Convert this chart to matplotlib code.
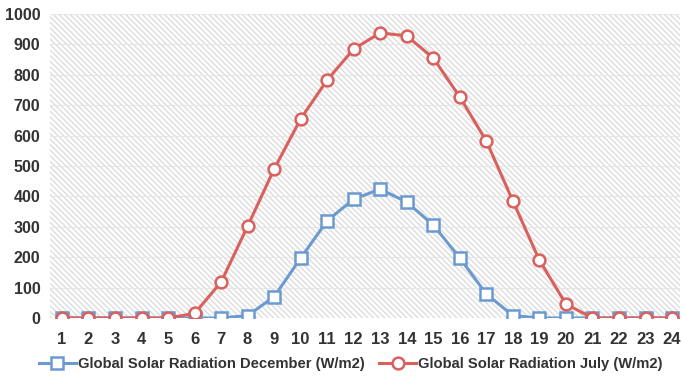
import matplotlib.pyplot as plt
from matplotlib.patches import Rectangle

hours = list(range(1, 25))
december = [0, 0, 0, 0, 0, 0, 0, 8, 70, 197, 320, 391, 424, 381, 306, 197, 79, 8, 0, 0, 0, 0, 0, 0]
july = [0, 0, 0, 0, 0, 15, 118, 302, 490, 655, 783, 885, 938, 928, 855, 727, 582, 385, 190, 46, 0, 0, 0, 0]

blue = '#6a9ad0'
red = '#d9605c'
plt.rcParams['font.family'] = ['Liberation Sans', 'DejaVu Sans']
plt.rcParams['hatch.linewidth'] = 1.0

fig = plt.figure(figsize=(6.82, 3.79), dpi=100)
ax = fig.add_axes([50/682, 1-318/379, 630/682, 304/379])

# striped plot area
ax.add_patch(Rectangle((0, 0), 1, 1, transform=ax.transAxes, facecolor='white',
                       edgecolor='#dddddd', lw=0, hatch='\\' * 6, zorder=0.5))
for v in range(100, 1001, 100):
    ax.axhline(v, color='#e6e6e6', lw=0.8, zorder=1)

ax.plot(hours, december, color=blue, lw=2.2, marker='s', ms=8.5, mfc='white',
        mec=blue, mew=1.8, zorder=3, label='Global Solar Radiation December (W/m2)')
ax.plot(hours, july, color=red, lw=2.2, marker='o', ms=8.5, mfc='white',
        mec=red, mew=1.8, zorder=4, label='Global Solar Radiation July (W/m2)')

ax.set_xlim(0.55, 24.3)
ax.set_ylim(0, 1000)
ax.set_xticks(hours)
ax.set_yticks(range(0, 1001, 100))
ax.tick_params(length=0, colors='#333333')
ax.tick_params(axis='x', pad=10, labelsize=12)
ax.tick_params(axis='y', pad=7, labelsize=11.5)
for lbl in ax.get_xticklabels() + ax.get_yticklabels():
    lbl.set_fontweight('bold')
for s in ax.spines.values():
    s.set_visible(False)

leg = fig.legend(loc='center', bbox_to_anchor=(351/682, 1-364/379), ncol=2, frameon=False,
                 prop={'size': 10.6, 'weight': 'bold'}, handlelength=2.5,
                 columnspacing=1.0, handletextpad=0.15, borderpad=0)
for t in leg.get_texts():
    t.set_color('#333333')

fig.savefig('out.png', dpi=100)
